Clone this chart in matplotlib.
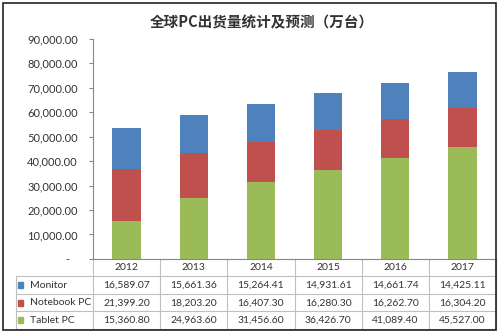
import matplotlib.pyplot as plt
import matplotlib.transforms as mtrans
from matplotlib.patches import Rectangle

years = ['2012', '2013', '2014', '2015', '2016', '2017']
series = ['Monitor', 'Notebook PC', 'Tablet PC']
monitor = [16589.07, 15661.36, 15264.41, 14931.61, 14661.74, 14425.11]
notebook = [21399.20, 18203.20, 16407.30, 16280.30, 16262.70, 16304.20]
tablet = [15360.80, 24963.60, 31456.60, 36426.70, 41089.40, 45527.00]
colors = ['#4F81BD', '#C0504D', '#9BBB59']
yticks = list(range(0, 90001, 10000))

plt.rcParams['font.family'] = ['Lato', 'DejaVu Sans']
txt = '#333333'
grid = '#BFBFBF'

fig = plt.figure(figsize=(5, 3.34), dpi=100)
ax = fig.add_axes([0.186, 0.2246, 0.806, 0.660])

x = list(range(len(years)))
mid = [t + n for t, n in zip(tablet, notebook)]
ax.bar(x, tablet, width=0.42, color=colors[2])
ax.bar(x, notebook, width=0.42, bottom=tablet, color=colors[1])
ax.bar(x, monitor, width=0.42, bottom=mid, color=colors[0])

ax.set_xlim(-0.5, len(years) - 0.5)
ax.set_ylim(0, 90000)
ax.set_yticks(yticks)
ax.set_yticklabels(['-'] + [f'{v:,.2f}' for v in yticks[1:]])
ax.set_xticks([])
ax.tick_params(axis='y', length=3, width=0.8, color='#868686', labelsize=8,
               labelcolor=txt, pad=8)
for s in ['top', 'right']:
    ax.spines[s].set_visible(False)
for s in ['left', 'bottom']:
    ax.spines[s].set_color('#868686')
    ax.spines[s].set_linewidth(0.8)

# excel accounting format puts the zero "-" further left
zl = ax.get_yticklabels()[0]
zl.set_transform(zl.get_transform() + mtrans.ScaledTranslation(-6 / 72, 0, fig.dpi_scale_trans))

# data table under the axes
ncol = len(years)
rh = 17.5 / 220.5
lab_left = (16 - 93) / 403
rows = [monitor, notebook, tablet]
kw = dict(transform=ax.transAxes, clip_on=False, color=grid, lw=0.8)

for k in range(ncol + 1):
    ax.plot([k / ncol, k / ncol], [0, -4 * rh], **kw)
ax.plot([lab_left, lab_left], [-rh, -4 * rh], **kw)
for r in range(1, 5):
    ax.plot([lab_left, 1], [-r * rh, -r * rh], **kw)

for i, yr in enumerate(years):
    ax.text((i + 0.5) / ncol, -0.5 * rh, yr, transform=ax.transAxes,
            ha='center', va='center', fontsize=7.5, color=txt)

for r, (name, vals, c) in enumerate(zip(series, rows, colors)):
    yc = -(r + 1.5) * rh
    ax.add_patch(Rectangle((lab_left + 0.004, yc - 0.013), 0.014, 0.026,
                           transform=ax.transAxes, color=c, clip_on=False))
    ax.text(lab_left + 0.035, yc, name, transform=ax.transAxes,
            ha='left', va='center', fontsize=7.5, color=txt)
    for i, v in enumerate(vals):
        ax.text((i + 0.5) / ncol, yc, f'{v:,.2f}', transform=ax.transAxes,
                ha='center', va='center', fontsize=7.5, color=txt)

fig.text(0.523, 0.934, '全球PC出货量统计及预测（万台）',
         family=['Noto Sans CJK SC', 'DejaVu Sans'], weight='bold',
         fontsize=10.5, color='#333333', ha='center', va='center')

# outer frame
fig.patches.append(Rectangle((3 / 500, 1 - 330 / 334), 493 / 500, 327 / 334,
                             transform=fig.transFigure, fill=False,
                             edgecolor='#222222', lw=1.2))

fig.savefig('out.png', dpi=100)
